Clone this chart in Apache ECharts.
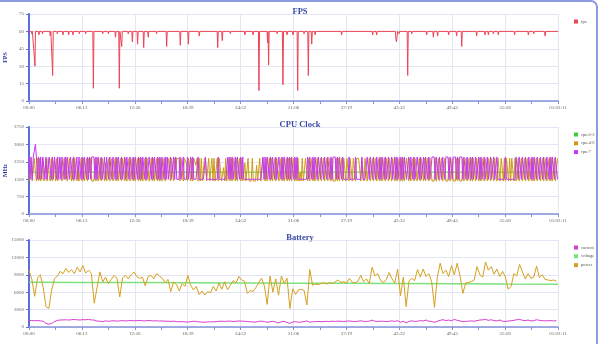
<!DOCTYPE html>
<html>
<head>
<meta charset="utf-8">
<script src="https://cdn.jsdelivr.net/npm/echarts@6/dist/echarts.min.js"></script>
<style>
  html, body { margin: 0; padding: 0; background: #fff; }
  #chart { width: 600px; height: 344px; }
</style>
</head>
<body>
<div id="chart"></div>
<script>
// Session length in seconds (01:02:11) and the x tick step (one tenth of it)
const sessionSeconds = 3731;
const timeTickStep = 373.1;

// FPS samples: [seconds, fps]
const fpsSamples = [
  [0,60],[16,60],[20,58],[24,60],[38,60],[42,30],[46,60],[66,60],[70,57],[74,60],[91,60],[95,58],[99,60],
  [146,60],[150,56],[154,60],[163,60],[167,22],[171,60],[196,60],[200,58],[204,60],[236,60],[240,57],[244,60],
  [276,60],[280,57],[284,60],[306,60],[310,57],[314,60],[351,60],[355,58],[359,60],[396,60],[400,58],[404,60],
  [450,60],[454,11],[458,60],[516,60],[520,58],[524,60],[556,60],[560,58],[564,60],[606,60],[610,55],[614,60],
  [633,60],[637,11],[641,60],[650,60],[654,47],[658,60],[696,60],[700,58],[704,60],[725,60],[729,51],[733,60],
  [762,60],[766,49],[770,60],[805,60],[809,46],[813,60],[837,60],[841,55],[845,60],[896,60],[900,58],[904,60],
  [967,60],[971,47],[975,60],[1016,60],[1020,59],[1024,60],[1063,60],[1067,48],[1071,60],[1120,60],[1124,49],[1128,60],
  [1197,60],[1201,56],[1205,60],[1256,60],[1260,59],[1264,60],[1327,60],[1331,46],[1335,60],[1359,60],[1363,52],[1367,60],
  [1416,60],[1420,58],[1424,60],[1519,60],[1523,57],[1527,60],[1576,60],[1580,57],[1584,60],[1618,60],[1622,9],[1626,60],
  [1679,60],[1683,50],[1686,60],[1688,60],[1690,31],[1694,60],[1746,60],[1750,58],[1754,60],[1787,60],[1791,14],[1795,60],
  [1816,60],[1820,57],[1824,60],[1858,60],[1862,57],[1866,60],[1891,60],[1895,9],[1899,60],[1936,60],[1940,58],[1944,60],
  [1966,60],[1970,22],[1974,60],[1990,60],[1994,49],[1998,60],[2014,60],[2018,57],[2022,60],[2201,60],[2205,57],[2209,60],
  [2420,60],[2424,57],[2428,60],[2448,60],[2452,57],[2456,60],[2584,60],[2588,53],[2592,51],[2596,52],[2600,60],
  [2606,60],[2610,58],[2614,60],[2667,60],[2671,22],[2675,60],[2696,60],[2700,58],[2704,60],[2801,60],[2805,57],[2809,60],
  [2848,60],[2852,55],[2856,60],[2878,60],[2882,56],[2886,60],[2956,60],[2960,57],[2964,60],[3012,60],[3016,56],[3020,60],
  [3048,60],[3052,47],[3056,60],[3153,60],[3157,56],[3161,60],[3212,60],[3216,57],[3220,60],[3236,60],[3240,57],[3244,60],
  [3271,60],[3275,58],[3279,60],[3306,60],[3310,57],[3314,60],[3421,60],[3425,57],[3429,60],[3518,60],[3522,57],[3526,60],
  [3556,60],[3560,58],[3564,60],[3596,60],[3600,59],[3604,60],[3636,60],[3640,56],[3644,60],[3731,60]
];

// CPU clock samples every 7.5 s (MHz)
const cpuStepSeconds = 7.5;
const cpu03Samples = [[0,1804],[746,1804],[1492,1804],[2239,1804],[2985,1804],[3731,1804]];
const cpu46Values = [
  1420,2400,2150,1420,1420,2400,1800,1420,2400,1420,
  2400,1420,1900,2400,1420,1420,2400,1420,2400,1650,
  1420,2400,1420,2100,2400,1420,2400,1420,1420,2400,
  2400,1420,1420,2400,1500,2400,1420,1420,2400,1700,
  1420,2400,1420,2400,2400,1420,2000,1420,1420,2400,
  1420,2400,1420,1420,2400,1420,2400,1800,2400,1420,
  1420,1420,2400,1420,2400,1420,1420,2400,1420,2400,
  2400,1420,2200,1420,1420,2400,1420,1420,2400,1420,
  1420,2400,1420,2400,1420,1420,2400,1420,2400,2400,
  1420,2400,1420,1420,2400,1420,1420,2400,1420,2400,
  1420,1420,2400,1420,2400,1420,2400,1420,1420,2400,
  1420,2400,2400,1420,1420,2400,1420,2400,1420,1420,
  2400,1420,2400,1420,2400,1420,1420,2400,1420,2400,
  2400,2400,2350,1420,2400,2400,1420,2400,1900,2400,
  2400,2400,1420,2400,2400,1420,2400,2400,2200,1420,
  2400,2400,1420,2400,1420,2400,2400,2100,2400,1420,
  2400,1420,2400,1420,1420,2400,2300,1420,1420,2400,
  1420,1420,2400,1420,2400,1420,1420,2400,1420,2400,
  2400,1420,1420,2000,1420,2400,1420,1420,2400,1420,
  2400,1420,2400,2400,1420,2400,1420,1420,2400,1420,
  2400,1420,1420,2200,1420,1420,2400,1420,1420,1420,
  2400,1420,1420,1420,2100,1420,1420,2400,1420,1420,
  2400,2400,1420,2400,1420,1420,2400,1420,2400,1420,
  1420,2400,1420,2400,2400,1420,1420,2400,1420,2400,
  1420,1420,2400,1420,2400,1420,2400,1420,1420,2400,
  1420,2400,1420,2400,1420,1800,1420,2400,1420,1420,
  2400,2400,1420,2400,1420,1420,2400,1420,2400,1420,
  1420,2400,1420,1420,2400,1420,1420,2400,1420,1420,
  2400,1420,1420,2400,1420,2400,1420,1420,1420,2400,
  1420,2400,1420,1420,2400,1420,2400,2400,1420,2400,
  2400,1420,2400,2400,1420,2400,2400,1420,2400,2400,
  2400,2400,1420,2400,2400,1420,2400,2400,1420,1420,
  2400,1420,1420,2400,1420,1420,2400,1420,1420,2400,
  1420,2400,1420,1420,2400,1420,2400,2400,1420,2400,
  2400,1420,2400,2400,1420,2400,1420,2400,2400,1420,
  2400,1420,2400,1420,1420,2400,2400,1420,2400,1420,
  1420,2400,1420,2400,2400,1420,1420,2400,1420,2400,
  2400,1420,2400,1420,1420,2400,1420,2400,2400,1420,
  1420,1420,2400,1420,1420,2400,1420,1420,2400,1420,
  1420,2400,1420,1420,1420,2400,1420,1420,2400,1420,
  1420,1420,2400,1420,2400,1420,1420,1420,2400,1420,
  1420,2400,1420,2400,2400,1420,2400,1420,2400,2400,
  1420,2400,2400,1420,2400,1420,2400,2400,1420,2400,
  2400,1420,2400,2400,1420,2400,2400,1420,2400,2400,
  1420,2400,2400,1420,2400,2000,1420,2400,1420,2400,
  2400,1420,2400,1420,2400,2400,1420,2400,1420,1420,
  2400,1420,1420,2400,1420,1420,2400,1420,1420,2400,
  1420,1420,2400,1420,2400,1420,1420,2400,1420,1420,
  2400,1420,1420,2400,1420,1420,2400,1420,1420,2400,
  1420,2400,1420,1420,2400,1420,1420,2400
];
const cpu7Values = [
  2458,1497,2458,1497,2458,2458,3000,2458,1497,2458,
  1497,2458,1497,2458,2458,1497,2458,1497,1497,2458,
  2458,1497,2458,1497,2458,2458,1497,2458,1497,2458,
  1497,2458,2458,1497,2458,1497,2458,2458,1497,2458,
  2458,1497,2458,1497,1497,2458,1497,2458,2458,1497,
  2458,1497,2458,2458,1497,2458,1497,2458,1497,2458,
  2458,2458,1497,2458,1497,2458,2458,1497,2458,1497,
  1497,2458,1497,2458,2458,1497,2458,2458,1497,2458,
  2458,1497,2458,1497,2458,2458,1497,2458,1497,1497,
  2458,1497,2458,2458,1497,2458,2458,1497,2458,1497,
  2458,2458,1497,2458,1497,2458,1497,2458,2458,1497,
  2458,1497,1497,2458,2458,1497,2458,1497,2458,2458,
  1497,2458,1497,2458,1497,2458,2458,1497,2458,1497,
  2458,1497,1497,2458,1497,1497,2458,1497,2458,1497,
  1497,1497,2458,1497,1497,2458,1497,1497,1497,2458,
  1497,1497,2458,1497,2458,1497,1497,1497,1497,2458,
  1497,1497,1497,1497,1497,1497,2458,1497,1497,1497,
  1497,1497,1497,1497,1497,1497,1497,1497,2458,1497,
  1497,1497,1497,1497,1497,1497,1497,2458,1497,2458,
  1497,2458,1497,1497,2458,1497,2458,2458,1497,2458,
  1497,2458,1497,1497,1497,1497,1497,1497,1497,1497,
  1497,1497,1497,1497,1497,1497,1497,1497,1497,1497,
  2458,1497,2458,1497,2458,2458,1497,2458,1497,2458,
  2458,1497,2458,1497,1497,2458,2458,1497,2458,1497,
  2458,2458,1497,2458,1497,2458,1497,2458,2458,1497,
  2458,1497,2458,1497,1497,1497,1497,1497,1497,1497,
  1497,1497,2458,1497,2458,2458,1497,2458,1497,2458,
  2458,1497,2458,2458,1497,2458,2458,1497,2458,2458,
  1497,2458,2458,1497,2458,1497,2458,2458,2458,1497,
  2458,1497,2458,2458,1497,2458,1497,1497,1497,1497,
  1497,2458,1497,1497,1497,1497,1497,2458,1497,1497,
  1497,1497,1497,2458,1497,1497,1497,1497,2458,2458,
  1497,2458,2458,1497,2458,2458,1497,2458,2458,1497,
  2458,1497,2458,2458,1497,2458,1497,1497,2458,1497,
  1497,2458,1497,1497,2458,1497,2458,1497,1497,2458,
  1497,2458,1497,2458,2458,1497,1497,2458,1497,2458,
  2458,1497,2458,1497,1497,2458,2458,1497,2458,1497,
  1497,2458,1497,2458,2458,1497,2458,1497,1497,2458,
  2458,2458,1497,2458,2458,1497,2458,2458,1497,2458,
  2458,1497,2458,2458,2458,1497,2458,2458,1497,2458,
  2458,2458,1497,2458,1497,2458,2458,2458,1497,2458,
  2458,1497,2458,1497,1497,2458,1497,2458,1497,1497,
  2458,1497,1497,2458,1497,2458,1497,1497,2458,1497,
  1497,2458,1497,1497,2458,1497,1497,2458,1497,1497,
  2458,1497,1497,1497,1497,1497,1497,1497,2458,1497,
  1497,1497,1497,1497,1497,1497,1497,1497,2458,2458,
  1497,2458,2458,1497,2458,2458,1497,2458,2458,1497,
  2458,2458,1497,2458,1497,2458,2458,1497,2458,2458,
  1497,2458,2458,1497,2458,2458,1497,2458,2458,1497,
  2458,1497,2458,2458,1497,2458,2458,1497
];

// Battery samples every 20 s
const batteryStepSeconds = 20;
const currentValues = [
  1150,1100,1080,1120,1050,1000,620,480,600,950,
  1150,1200,1220,1250,1200,1260,1300,1240,1210,1270,
  1250,1300,1230,1190,1020,1000,920,1060,980,1040,
  1080,1010,1060,1100,1040,1090,1120,1060,1100,1130,
  1080,1060,1120,1090,1040,1080,1020,1050,990,1000,
  960,1010,950,900,940,880,860,920,990,950,
  880,850,820,870,900,880,940,980,1000,960,
  1000,1020,950,990,1040,1010,980,950,900,870,
  850,980,1000,940,800,920,980,850,700,900,
  950,780,620,860,940,800,880,920,1050,830,
  900,920,960,900,940,980,950,1000,960,1020,
  980,950,1000,1040,980,950,1000,1060,980,960,
  1020,1180,1000,950,1010,980,920,990,1050,960,
  1100,820,1000,700,980,1050,960,1000,1100,1040,
  1200,1000,950,820,1000,1150,1260,1100,1200,1080,
  1300,1150,1040,900,980,1000,1050,1000,1100,1200,
  1240,1300,1150,1250,1100,1050,1200,1000,950,1020,
  1080,1150,1250,1320,1150,1100,1200,1050,1100,1250,
  1150,1100,1050,1080,1100,1050,1080
];
const voltageSamples = [
  [0,7720],[373,7690],[746,7660],[1119,7630],[1492,7590],[1866,7560],
  [2239,7530],[2612,7490],[2985,7450],[3358,7410],[3731,7380]
];
const powerValues = [
  9800,8200,5300,8400,9000,6800,3500,3200,6400,8300,
  8800,9600,9200,10100,9400,9900,9200,10300,9500,10600,
  9300,9800,9200,4100,6800,9500,7800,8600,7500,8200,
  8900,8400,5200,8500,8900,8300,9000,9500,8700,8400,
  8600,7100,8700,8900,8300,9200,8800,8400,7600,8200,
  6100,7800,7300,6200,7500,7000,8900,7200,6400,7000,
  5600,6200,5500,6100,5900,7000,6200,7600,6500,7800,
  6400,7200,8000,7600,8700,8100,7900,5800,6300,6100,
  6800,7600,8400,7100,3900,8800,6000,8300,5500,8800,
  7500,8400,3200,6600,5600,6400,6500,6300,3800,9900,
  7200,7400,7300,7500,7600,7400,7700,7500,7800,8100,
  7700,7800,7600,8400,7700,7600,7900,8900,7800,8300,
  7500,10300,8800,9200,8000,7700,8200,9400,8300,7600,
  10000,5400,8600,3500,7900,8400,8000,9900,8600,10000,
  8700,9200,7800,3400,8600,11000,9200,9800,8700,10600,
  9000,11000,8800,5800,7600,7700,7800,8100,10400,9000,
  8600,11200,9800,10400,9100,10000,8700,9600,8600,6500,
  7000,9200,8800,10800,9500,8300,9200,8400,8600,10500,
  8500,9000,8200,8100,8000,8100,7900
];

// Y-axis ranges: [max, step]
const fpsAxis = [75, 15];
const mhzAxis = [3750, 750];
const batteryAxis = [15000, 3000];

function withTimes(values, step) {
  return values.map((v, i) => [i * step, v]);
}

function clockLabel(v) {
  const s = Math.round(v);
  const h = Math.floor(s / 3600), m = Math.floor((s % 3600) / 60), sec = s % 60;
  const p = n => String(n).padStart(2, '0');
  return h ? p(h) + ':' + p(m) + ':' + p(sec) : p(m) + ':' + p(sec);
}

const labelFont = 'Liberation Serif';
const gridTops = [14, 127, 240];

function makeX(gi) {
  return {
    type: 'value', gridIndex: gi, min: 0, max: sessionSeconds, interval: timeTickStep,
    axisLine: { show: true, lineStyle: { color: '#8592d8', width: 1.5 } },
    axisTick: { show: true, length: 3, lineStyle: { color: '#8592d8' } },
    minorTick: { show: true, splitNumber: 2, length: 3, lineStyle: { color: '#8592d8' } },
    axisLabel: { formatter: clockLabel, fontSize: 5, color: '#666', margin: 4, fontFamily: labelFont,
                 showMinLabel: true, showMaxLabel: true },
    splitLine: { show: true, lineStyle: { color: '#e4e6f4', width: 1 } }
  };
}
function makeY(gi, range, name) {
  return {
    type: 'value', gridIndex: gi, min: 0, max: range[0], interval: range[1],
    name: name, nameLocation: 'middle', nameGap: 21, nameRotate: 90, nameMoveOverlap: false,
    nameTextStyle: { color: '#2f3f9f', fontSize: 6, fontWeight: 'bold', fontFamily: labelFont },
    axisLine: { show: true, lineStyle: { color: '#5c6de0', width: 2 } },
    axisTick: { show: true, length: 3, lineStyle: { color: '#5c6de0' } },
    axisLabel: { fontSize: 5, color: '#666', margin: 5, fontFamily: labelFont,
                 formatter: v => String(v) },
    splitLine: { show: true, lineStyle: { color: '#e4e6f4', width: 1 } }
  };
}
function makeTitle(text, top) {
  return { text: text, left: 'center', top: top,
    textStyle: { fontSize: 8.5, fontWeight: 'bold', color: '#3a4aa6', fontFamily: labelFont } };
}
function makeLegend(names, top) {
  return { data: names, orient: 'vertical', left: 569, top: top, icon: 'rect',
    itemWidth: 4, itemHeight: 4, itemGap: 3.8,
    textStyle: { fontSize: 4.5, color: '#555', fontFamily: labelFont, padding: [0, 0, 0, -2] } };
}
function lineSeries(name, gi, data, color, width) {
  return { name: name, type: 'line', xAxisIndex: gi, yAxisIndex: gi, data: data,
    showSymbol: false, symbol: 'none', animation: false,
    lineStyle: { color: color, width: width }, itemStyle: { color: color } };
}

const chart = echarts.init(document.getElementById('chart'), null, { renderer: 'canvas' });
chart.setOption({
  backgroundColor: '#ffffff',
  animation: false,
  title: [makeTitle('FPS', 2), makeTitle('CPU Clock', 115), makeTitle('Battery', 228)],
  legend: [
    makeLegend(['fps'], 14),
    makeLegend(['cpu 0-3', 'cpu 4-6', 'cpu 7'], 127),
    makeLegend(['current', 'voltage', 'power'], 240)
  ],
  grid: gridTops.map(t => ({ left: 29, right: 42, top: t, height: 87, outerBoundsMode: 'none', containLabel: false })),
  xAxis: [makeX(0), makeX(1), makeX(2)],
  yAxis: [makeY(0, fpsAxis, 'FPS'), makeY(1, mhzAxis, 'MHz'), makeY(2, batteryAxis, '')],
  series: [
    lineSeries('fps', 0, fpsSamples, '#ee4456', 1),
    lineSeries('cpu 0-3', 1, cpu03Samples, '#3ccf3c', 1),
    lineSeries('cpu 4-6', 1, withTimes(cpu46Values, cpuStepSeconds), '#cf9a16', 1),
    lineSeries('cpu 7', 1, withTimes(cpu7Values, cpuStepSeconds), '#c638f4', 1),
    lineSeries('current', 2, withTimes(currentValues, batteryStepSeconds), '#d83ccf', 1),
    lineSeries('voltage', 2, voltageSamples, '#7fe07f', 1.5),
    lineSeries('power', 2, withTimes(powerValues, batteryStepSeconds), '#d6a01e', 1)
  ],
  graphic: [{
    type: 'rect', silent: true, z: 100,
    shape: { x: -20, y: 1, width: 617, height: 400, r: 6 },
    style: { fill: 'none', stroke: '#8c9ae0', lineWidth: 2 }
  }]
});
</script>
</body>
</html>
